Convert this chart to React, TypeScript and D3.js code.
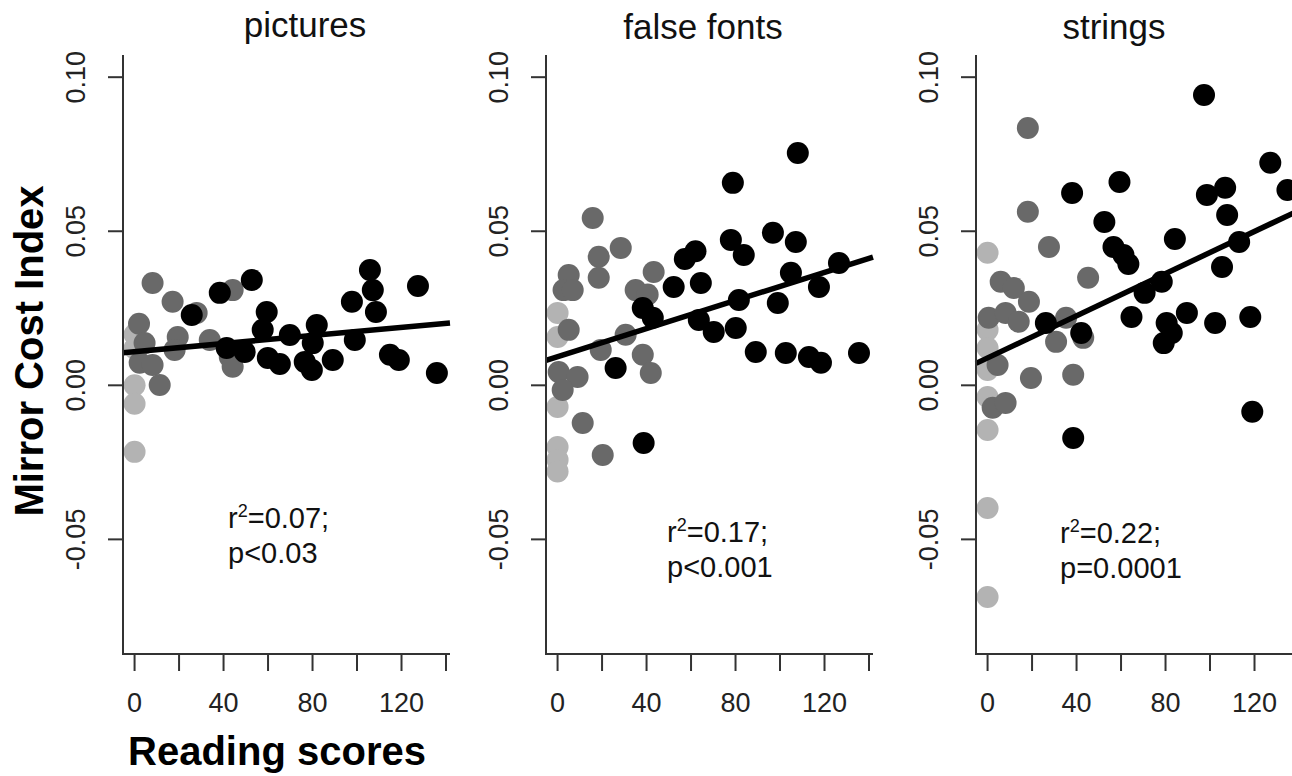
import React from 'react';
import * as d3 from 'd3';

// values: [reading score, mirror cost index]
const titles = ['pictures', 'false fonts', 'strings'];
const rSquared = ['0.07', '0.17', '0.22'];
const pValues = ['p<0.03', 'p<0.001', 'p=0.0001'];
const xTicks = [0, 20, 40, 60, 80, 100, 120, 140];
const xTickLabels = [0, 40, 80, 120];
const yTicks = [-0.05, 0, 0.05, 0.1];

const fitIntercept = [0.0109, 0.0093, 0.0089];
const fitSlope = [0.000066, 0.000228, 0.000342];

const picturesLight = [[0, 0.0165], [0, 0.012], [0, 0.0], [0, -0.006], [0, -0.0216]];
const picturesDark = [
  [8.1, 0.0332], [17.1, 0.0271], [27.9, 0.0235], [44.1, 0.0309], [2, 0.02], [19.4, 0.0157],
  [18, 0.0115], [33.8, 0.0147], [42.8, 0.0092], [44.1, 0.006], [4.5, 0.0137], [2.3, 0.0073],
  [8.1, 0.0066], [11.3, 0.0001],
];
const picturesBlack = [
  [52.7, 0.0342], [38.3, 0.03], [25.7, 0.0228], [59.4, 0.0238], [41.4, 0.0121], [59.9, 0.0089],
  [65.3, 0.0069], [69.8, 0.0163], [81.9, 0.0196], [80.1, 0.0137], [76.5, 0.0076], [79.7, 0.005],
  [89.1, 0.0082], [97.7, 0.0271], [99, 0.0147], [105.8, 0.0374], [107.1, 0.0309], [108.5, 0.0238],
  [114.8, 0.0099], [118.8, 0.0082], [127.4, 0.0322], [135.9, 0.004], [49.5, 0.0108], [57.6, 0.018],
];

const fontsLight = [[0, 0.0235], [0, 0.0157], [0, -0.007], [0, -0.02], [0, -0.0242], [0, -0.028]];
const fontsDark = [
  [15.8, 0.0543], [28.4, 0.0446], [18.5, 0.0417], [18.5, 0.0349], [5, 0.0358], [2.7, 0.0309],
  [6.8, 0.0309], [43.2, 0.0368], [35.1, 0.0309], [40.5, 0.0295], [5, 0.018], [30.6, 0.0164],
  [19.4, 0.0115], [38.3, 0.0099], [41.9, 0.004], [0.5, 0.0043], [9, 0.0027], [2.3, -0.0015],
  [11.3, -0.0122], [20.3, -0.0226],
];
const fontsBlack = [
  [108, 0.0754], [78.8, 0.0657], [77.9, 0.0472], [83.7, 0.0423], [96.8, 0.0495], [107.1, 0.0465],
  [57.2, 0.041], [62, 0.0435], [52.2, 0.0319], [64.4, 0.0332], [104.9, 0.0365], [126.5, 0.0397],
  [117.5, 0.0319], [81.5, 0.0277], [99, 0.0267], [38.3, 0.0251], [42.8, 0.0219], [63.5, 0.0212],
  [70.2, 0.0173], [80.1, 0.0186], [89.1, 0.0108], [102.6, 0.0105], [113, 0.0092], [118.4, 0.0073],
  [135.5, 0.0105], [26.1, 0.0056], [38.7, -0.0187],
];

const stringsLight = [
  [0, 0.043], [0, 0.018], [0, 0.0121], [0, 0.005], [0, -0.0038], [0, -0.0145], [0, -0.0398], [0, -0.0687],
];
const stringsDark = [
  [18.1, 0.0835], [18.1, 0.0563], [27.6, 0.0449], [45.2, 0.0349], [5.9, 0.0336], [11.8, 0.0316],
  [18.6, 0.0271], [0.5, 0.0219], [8.1, 0.0235], [14, 0.0206], [35.3, 0.0219], [30.8, 0.0141],
  [43, 0.0154], [4.5, 0.0066], [19.5, 0.0024], [38.5, 0.0034], [2.3, -0.0073], [8.1, -0.0057],
];
const stringsBlack = [
  [97.3, 0.0942], [127.1, 0.0722], [134.8, 0.0634], [59.3, 0.066], [38, 0.0624], [98.6, 0.0618],
  [106.8, 0.0641], [107.7, 0.0553], [52.5, 0.053], [84.2, 0.0475], [56.6, 0.0449], [61.1, 0.0423],
  [63.3, 0.0394], [113.1, 0.0465], [105.4, 0.0384], [78.3, 0.0336], [70.6, 0.03], [64.7, 0.0222],
  [89.6, 0.0235], [80.5, 0.0202], [82.8, 0.017], [79.2, 0.0137], [102.3, 0.0202], [118.1, 0.0222],
  [26.2, 0.0202], [42.1, 0.017], [38.5, -0.0171], [119, -0.0086],
];

const groups = [
  [picturesLight, picturesDark, picturesBlack],
  [fontsLight, fontsDark, fontsBlack],
  [stringsLight, stringsDark, stringsBlack],
];
const COLORS = ['#b3b3b3', '#696969', '#000000'];

const FONT = "'Liberation Sans', Arial, Helvetica, sans-serif";
const W = 1292, H = 776;
const TOP = 55, BOTTOM = 654, PANEL_W = 327;
const lefts = [123, 546, 976];
const titleX = [305, 703, 1114];
const titleY = [37, 39, 39];
const statX = [228, 667, 1060];
const statY = [528, 542, 543];

const y = d3.scaleLinear().domain([-0.0872, 0.1072]).range([BOTTOM, TOP]);

const Panel = ({ i }: { i: number }) => {
  const left = lefts[i];
  const x = d3.scaleLinear().domain([-5.2, 141.8]).range([left, left + PANEL_W]);
  const [x0, x1] = x.domain();
  const fit = (v: number) => fitIntercept[i] + fitSlope[i] * v;
  const line = d3.line<number>().x(v => x(v)).y(v => y(fit(v)));

  return (
    <g>
      <text x={titleX[i]} y={titleY[i]} textAnchor="middle" fontSize={35} fill="#111">{titles[i]}</text>

      {groups[i].map((pts, g) =>
        pts.map((d, k) => (
          <circle key={`${g}-${k}`} cx={x(d[0])} cy={y(d[1])} r={11} fill={COLORS[g]} />
        ))
      )}

      <path d={line([x0, x1]) || ''} stroke="#000" strokeWidth={5.5} fill="none" />

      <path d={`M${left},${TOP}V${BOTTOM}H${left + PANEL_W}`} stroke="#333" strokeWidth={2} fill="none" />
      {yTicks.map(t => (
        <g key={t}>
          <line x1={left - 15} x2={left} y1={y(t)} y2={y(t)} stroke="#333" strokeWidth={2} />
          <text transform={`translate(${left - 38},${y(t)}) rotate(-90)`} textAnchor="middle"
            fontSize={27} fill="#222">{t.toFixed(2)}</text>
        </g>
      ))}
      {xTicks.map(t => (
        <line key={t} x1={x(t)} x2={x(t)} y1={BOTTOM + 1} y2={BOTTOM + 17} stroke="#333" strokeWidth={2} />
      ))}
      {xTickLabels.map(t => (
        <text key={t} x={x(t)} y={712} textAnchor="middle" fontSize={27} fill="#222">{t}</text>
      ))}

      <text x={statX[i]} y={statY[i]} fontSize={29} fill="#111">
        r<tspan dy={-11} fontSize={18}>2</tspan><tspan dy={11}>={rSquared[i]};</tspan>
      </text>
      <text x={statX[i]} y={statY[i] + 35} fontSize={29} fill="#111">{pValues[i]}</text>
    </g>
  );
};

export default function App() {
  return (
    <svg width={W} height={H} style={{ position: 'absolute', left: 0, top: 0, background: '#fff' }}
      fontFamily={FONT}>
      <rect width={W} height={H} fill="#fff" />
      {[0, 1, 2].map(i => <Panel key={i} i={i} />)}
      <text transform="translate(43,351) rotate(-90)" textAnchor="middle" fontSize={40}
        fontWeight="bold" fill="#000">Mirror Cost Index</text>
      <text x={277} y={765} textAnchor="middle" fontSize={40} fontWeight="bold" fill="#000">Reading scores</text>
    </svg>
  );
}
